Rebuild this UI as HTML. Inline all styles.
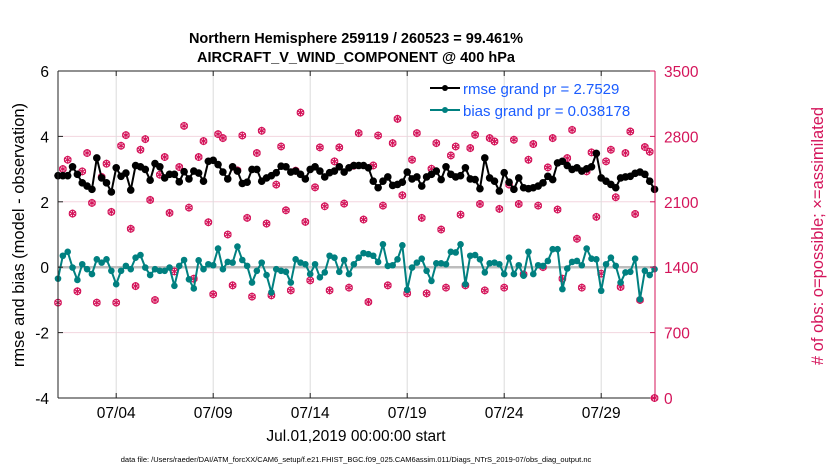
<!DOCTYPE html>
<html><head><meta charset="utf-8">
<style>
body{margin:0;background:#fff;width:830px;height:470px;overflow:hidden}
svg{font-family:"Liberation Sans",sans-serif}
</style></head>
<body>
<svg id="chart" width="830" height="470" viewBox="0 0 830 470" xmlns="http://www.w3.org/2000/svg">
<text x="356" y="43" text-anchor="middle" font-size="14.5" font-weight="bold">Northern Hemisphere 259119 / 260523 = 99.461%</text>
<text x="356" y="62" text-anchor="middle" font-size="14.5" font-weight="bold">AIRCRAFT_V_WIND_COMPONENT @ 400 hPa</text>
<g id="grid"></g>
<g id="series"></g>
<g id="axes"></g>
<text transform="translate(24,235) rotate(-90)" text-anchor="middle" font-size="16.5">rmse and bias (model - observation)</text>
<text fill="#d4145a" transform="translate(823,236) rotate(-90)" text-anchor="middle" font-size="16.5"># of obs: o=possible; ×=assimilated</text>
<text x="356" y="441" text-anchor="middle" font-size="15.5">Jul.01,2019 00:00:00 start</text>
<text x="356" y="462" text-anchor="middle" font-size="7.5">data file: /Users/raeder/DAI/ATM_forcXX/CAM6_setup/f.e21.FHIST_BGC.f09_025.CAM6assim.011/Diags_NTrS_2019-07/obs_diag_output.nc</text>
<g>
<line x1="430" y1="88" x2="460" y2="88" stroke="#000" stroke-width="2"/>
<circle cx="445" cy="88" r="3" fill="#000"/>
<text x="463" y="94" font-size="15" fill="#1a5cff">rmse grand pr = 2.7529</text>
<line x1="430" y1="110" x2="460" y2="110" stroke="#008080" stroke-width="2"/>
<circle cx="445" cy="110" r="3" fill="#008080"/>
<text x="463" y="116" font-size="15" fill="#1a5cff">bias grand pr = 0.038178</text>
</g>
</svg>
<script>
const rmse=[2.80,2.80,2.80,3.07,2.84,2.58,2.48,2.38,3.34,2.73,2.58,2.30,3.04,2.78,2.88,2.36,3.11,3.07,2.99,2.66,3.17,3.07,2.73,2.84,2.84,2.61,2.92,2.70,2.94,2.88,2.63,3.24,
3.27,3.14,2.91,2.70,3.07,2.94,2.56,2.60,2.99,2.99,2.63,2.73,2.80,2.89,3.09,3.07,2.91,2.94,2.84,2.70,2.99,3.07,2.94,2.76,2.89,2.94,3.07,2.91,3.04,3.11,3.11,
3.11,3.04,2.63,2.43,2.63,2.76,2.50,2.53,2.60,2.91,2.70,2.76,2.48,2.76,2.84,2.94,2.68,3.07,2.84,2.76,2.80,3.04,2.70,2.68,2.40,3.34,2.73,2.63,2.33,2.89,2.60,
2.38,2.73,2.43,2.40,2.43,2.48,2.58,2.78,2.68,3.19,3.24,3.11,2.99,3.04,2.94,3.01,3.07,3.48,2.73,2.63,2.53,2.43,2.73,2.76,2.78,2.87,2.91,2.84,2.63,2.38];
const bias=[-0.35,0.35,0.47,-0.01,-0.39,0.09,-0.06,-0.21,0.24,0.14,0.24,-0.11,-0.52,-0.11,0.04,-0.06,0.29,0.37,-0.01,-0.24,-0.06,-0.11,-0.11,-0.01,-0.57,0.04,0.22,-0.37,-0.65,0.21,-0.06,0.09,
0.06,0.57,-0.06,0.16,0.14,0.63,0.22,0.04,-0.47,-0.11,0.14,-0.24,-0.77,-0.06,-0.11,-0.14,-0.47,0.24,0.14,0.09,-0.21,0.09,-0.31,-0.16,0.35,0.29,-0.14,0.22,-0.21,0.09,0.29,
0.43,0.40,0.35,0.16,0.70,0.04,0.06,0.24,0.67,-0.69,-0.01,0.14,0.26,-0.11,-0.42,0.12,0.12,0.09,0.47,0.45,0.70,-0.52,0.35,0.37,0.24,-0.16,0.12,0.14,0.09,-0.21,0.29,
-0.21,0.06,-0.26,0.47,-0.21,0.06,0.04,0.19,0.55,0.55,-0.67,-0.04,0.16,0.19,0.06,0.57,0.26,0.24,-0.72,0.09,0.29,0.04,-0.47,-0.16,-0.14,0.26,-0.98,-0.11,-0.24,-0.06];
const nobs=[1021,2451,2550,1974,1142,2426,2622,2088,1021,2366,2508,1992,1021,2700,2814,1811,1198,2657,2771,2120,1049,2390,2579,1981,1355,2472,2913,2038,1277,2579,2750,1881,
1110,2824,2782,1750,1206,2436,2810,1928,1085,2622,2860,1867,1099,2284,2692,2009,1152,2433,3055,1885,1259,2255,2682,2052,1152,2533,2682,2081,1181,2486,2835,
1910,1028,2489,2810,2059,1206,2728,2988,2170,1120,2550,2835,1928,1120,2454,2728,1803,1181,2596,2692,1963,1206,2675,2817,2077,1152,2782,2746,2024,1181,2284,
2764,2077,1323,2550,2718,2059,1401,2468,2782,2017,1277,2568,2870,1704,1181,2426,2629,1939,1331,2533,2657,2149,1188,2622,2853,1970,1049,2686,2636,0];
const leftTicks=[-4,-2,0,2,4,6];
const rightTicks=[0,700,1400,2100,2800,3500];
const dateTicks=[3,8,13,18,23,28];
const dateLabels=["07/04","07/09","07/14","07/19","07/24","07/29"];
const stepDays=0.25;

const X0=58,X1=655,Y0=71,Y1=398,PXD=19.4;
const xs=d=>X0+d*PXD;
const yl=v=>Y1-(v+4)/10*(Y1-Y0);
const yr=v=>Y1-v/3500*(Y1-Y0);
const NS="http://www.w3.org/2000/svg";
function mk(tag,attrs,parent){const e=document.createElementNS(NS,tag);for(const k in attrs)e.setAttribute(k,attrs[k]);parent.appendChild(e);return e;}
const grid=document.getElementById('grid'),series=document.getElementById('series'),axes=document.getElementById('axes');
const RED="#d4145a";
rightTicks.forEach(v=>{const l=mk('line',{x1:X0,x2:X1,y1:yr(v),y2:yr(v),stroke:'#f3d6df','stroke-width':1},grid);

});
dateTicks.forEach(d=>{const l=mk('line',{x1:xs(d),x2:xs(d),y1:Y0,y2:Y1,stroke:'#dcdcdc','stroke-width':1},grid);

});
const zl=mk('line',{x1:X0,x2:X1,y1:yl(0),y2:yl(0),stroke:'#bdbdbd','stroke-width':2.5},grid);


// obs
nobs.forEach((v,i)=>{const x=xs(i*stepDays),y=yr(v);const g=mk('g',{},series);


mk('circle',{cx:x,cy:y,r:3.3,fill:'none',stroke:RED,'stroke-width':1.2},g);
const r=4;let d='';
for(let k=0;k<3;k++){const a=Math.PI/2+k*Math.PI/3;const dx=r*Math.cos(a),dy=r*Math.sin(a);d+=`M${x-dx},${y-dy}L${x+dx},${y+dy}`;}
mk('path',{d:d,stroke:RED,'stroke-width':1.2,fill:'none'},g);});
// bias
const bp=bias.map((v,i)=>xs(i*stepDays)+','+yl(v)).join(' ');
const bl=mk('polyline',{points:bp,fill:'none',stroke:'#008080','stroke-width':2},series);


bias.forEach((v,i)=>{const c=mk('circle',{cx:xs(i*stepDays),cy:yl(v),r:3.3,fill:'#008080'},series);

});
// rmse
const rp=rmse.map((v,i)=>xs(i*stepDays)+','+yl(v)).join(' ');
const rl=mk('polyline',{points:rp,fill:'none',stroke:'#000','stroke-width':2},series);


rmse.forEach((v,i)=>{const c=mk('circle',{cx:xs(i*stepDays),cy:yl(v),r:3.8,fill:'#000'},series);

});
// axes
mk('line',{x1:X0,x2:X1,y1:Y0,y2:Y0,stroke:'#222','stroke-width':1},axes);
mk('line',{x1:X0,x2:X1,y1:Y1,y2:Y1,stroke:'#222','stroke-width':1},axes);
mk('line',{x1:X0,x2:X0,y1:Y0,y2:Y1,stroke:'#222','stroke-width':1},axes);
mk('line',{x1:X1,x2:X1,y1:Y0,y2:Y1,stroke:RED,'stroke-width':1},axes);
leftTicks.forEach(v=>{mk('line',{x1:X0,x2:X0+5,y1:yl(v),y2:yl(v),stroke:'#222'},axes);
const t=mk('text',{x:X0-9,y:yl(v)+6,'text-anchor':'end','font-size':15.5},axes);t.textContent=v;

});
rightTicks.forEach(v=>{mk('line',{x1:X1-5,x2:X1,y1:yr(v),y2:yr(v),stroke:RED},axes);
const t=mk('text',{x:X1+9,y:yr(v)+6,'font-size':15.5,fill:RED},axes);t.textContent=v;

});
dateTicks.forEach((d,i)=>{mk('line',{x1:xs(d),x2:xs(d),y1:Y1,y2:Y1-5,stroke:'#222'},axes);
mk('line',{x1:xs(d),x2:xs(d),y1:Y0,y2:Y0+5,stroke:'#222'},axes);
const t=mk('text',{x:xs(d),y:Y1+20,'text-anchor':'middle','font-size':15.5},axes);t.textContent=dateLabels[i];

});
</script>
</body></html>
